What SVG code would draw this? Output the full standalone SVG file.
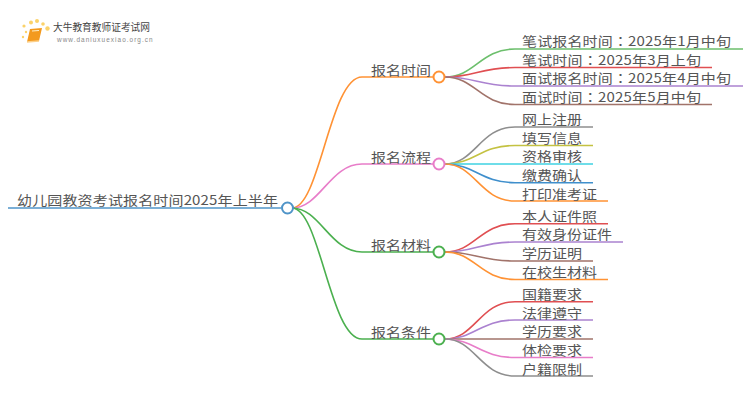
<svg xmlns="http://www.w3.org/2000/svg" width="750" height="410" viewBox="0 0 750 410">
<style>
text{font-family:"Noto Sans CJK SC","Liberation Sans",sans-serif;fill:#555}
.t{font-size:15px}
.c{font-family:"Noto Sans CJK TC",sans-serif}
#connectors path{fill:none;stroke-width:1.6}
.n{fill:#fff;stroke-width:2}
</style>
<rect width="750" height="410" fill="#fff"/>
<g id="logo">
<g fill="#fbd26a"><circle cx="24" cy="26" r="1.6"/><circle cx="26" cy="32" r="1.2"/><circle cx="31" cy="22.500" r="2"/><circle cx="37" cy="21" r="2"/><circle cx="43" cy="24" r="1.800"/><circle cx="47.500" cy="28.500" r="2.200"/><circle cx="23" cy="37" r="1.200"/></g>
<path d="M30 29L42 28L39 41L27 42Z" fill="#f39a1e"/><path d="M27 42L39 41" stroke="#fcd08a" stroke-width="1.400"/><path d="M32 31L39 30.500" stroke="#fff0c8" stroke-width="1"/>
<text x="53" y="31" textLength="97" style="font-size:9.700px;fill:#444">大牛教育教师证考试网</text>
<text x="57" y="42" style="font-size:6.400px;fill:#888;font-family:'Liberation Sans',sans-serif;letter-spacing:1.050px">www.daniuxuexiao.org.cn</text>
</g>
<g id="connectors">
<path d="M8 208H281" stroke="#4f94c8" stroke-width="2"/>
<path d="M292 208C320 208 330 77 362 77H433" stroke="#ff9234"/>
<path d="M292 208C320 208 330 164 362 164H433" stroke="#e87dc9"/>
<path d="M292 208C320 208 330 252 362 252H433" stroke="#4bb04f"/>
<path d="M292 208C320 208 330 339 362 339H433" stroke="#4bb04f"/>
<path d="M445 77C475 77 480 49 515 49H743" stroke="#6cbf6c"/>
<path d="M445 77C475 77 480 67.500 515 67.500H712" stroke="#e04f52"/>
<path d="M445 77C475 77 480 86 515 86H743" stroke="#ab82d0"/>
<path d="M445 77C475 77 480 104.500 515 104.500H712" stroke="#a1736a"/>
<path d="M445 164C475 164 480 127 515 127H593" stroke="#8e8e8e"/>
<path d="M445 164C475 164 480 145.500 515 145.500H593" stroke="#c4c242"/>
<path d="M445 164H593" stroke="#3ed2e2"/>
<path d="M445 164C475 164 480 182.700 515 182.700H593" stroke="#3f8fcc"/>
<path d="M445 164C475 164 480 201 515 201H608" stroke="#ff9234"/>
<path d="M445 252C475 252 480 223.700 515 223.700H608" stroke="#e04f52"/>
<path d="M445 252C475 252 480 242 515 242H623" stroke="#ab82d0"/>
<path d="M445 252C475 252 480 261 515 261H593" stroke="#a1736a"/>
<path d="M445 252C475 252 480 279.500 515 279.500H608" stroke="#ff9234"/>
<path d="M445 339C475 339 480 301.700 515 301.700H593" stroke="#e04f52"/>
<path d="M445 339C475 339 480 320 515 320H593" stroke="#ab82d0"/>
<path d="M445 339H593" stroke="#a1736a"/>
<path d="M445 339C475 339 480 357.500 515 357.500H593" stroke="#e87dc9"/>
<path d="M445 339C475 339 480 376 515 376H593" stroke="#8e8e8e"/>
</g>
<g id="root"><circle class="n" cx="287.500" cy="208" r="5.500" stroke="#4f94c8"/><text class="t" textLength="261" transform="translate(17 205) scale(1 .85)">幼儿园教资考试报名时间2025年上半年</text></g>
<g id="b1"><circle class="n" cx="439" cy="77" r="5.500" stroke="#ff9234"/><text class="t" transform="translate(371 75) scale(1 .85)">报名时间</text></g>
<g id="b2"><circle class="n" cx="439" cy="164" r="5.500" stroke="#e87dc9"/><text class="t" transform="translate(371 162) scale(1 .85)">报名流程</text></g>
<g id="b3"><circle class="n" cx="439" cy="252" r="5.500" stroke="#4bb04f"/><text class="t" transform="translate(371 250) scale(1 .85)">报名材料</text></g>
<g id="b4"><circle class="n" cx="439" cy="339" r="5.500" stroke="#4bb04f"/><text class="t" transform="translate(371 337) scale(1 .85)">报名条件</text></g>
<g id="l1"><text class="t" textLength="209" transform="translate(522 46) scale(1 .85)">笔试报名时间<tspan class="c">：</tspan>2025年1月中旬</text></g>
<g id="l2"><text class="t" textLength="179" transform="translate(522 65) scale(1 .85)">笔试时间<tspan class="c">：</tspan>2025年3月上旬</text></g>
<g id="l3"><text class="t" textLength="209" transform="translate(522 83) scale(1 .85)">面试报名时间<tspan class="c">：</tspan>2025年4月中旬</text></g>
<g id="l4"><text class="t" textLength="179" transform="translate(522 102) scale(1 .85)">面试时间<tspan class="c">：</tspan>2025年5月中旬</text></g>
<g id="l5"><text class="t" transform="translate(522 124) scale(1 .85)">网上注册</text></g>
<g id="l6"><text class="t" transform="translate(522 143) scale(1 .85)">填写信息</text></g>
<g id="l7"><text class="t" transform="translate(522 161) scale(1 .85)">资格审核</text></g>
<g id="l8"><text class="t" transform="translate(522 180) scale(1 .85)">缴费确认</text></g>
<g id="l9"><text class="t" transform="translate(522 199) scale(1 .85)">打印准考证</text></g>
<g id="l10"><text class="t" transform="translate(522 221) scale(1 .85)">本人证件照</text></g>
<g id="l11"><text class="t" transform="translate(522 239) scale(1 .85)">有效身份证件</text></g>
<g id="l12"><text class="t" transform="translate(522 258) scale(1 .85)">学历证明</text></g>
<g id="l13"><text class="t" transform="translate(522 277) scale(1 .85)">在校生材料</text></g>
<g id="l14"><text class="t" transform="translate(522 299) scale(1 .85)">国籍要求</text></g>
<g id="l15"><text class="t" transform="translate(522 318) scale(1 .85)">法律遵守</text></g>
<g id="l16"><text class="t" transform="translate(522 336) scale(1 .85)">学历要求</text></g>
<g id="l17"><text class="t" transform="translate(522 355) scale(1 .85)">体检要求</text></g>
<g id="l18"><text class="t" transform="translate(522 374) scale(1 .85)">户籍限制</text></g>
</svg>
